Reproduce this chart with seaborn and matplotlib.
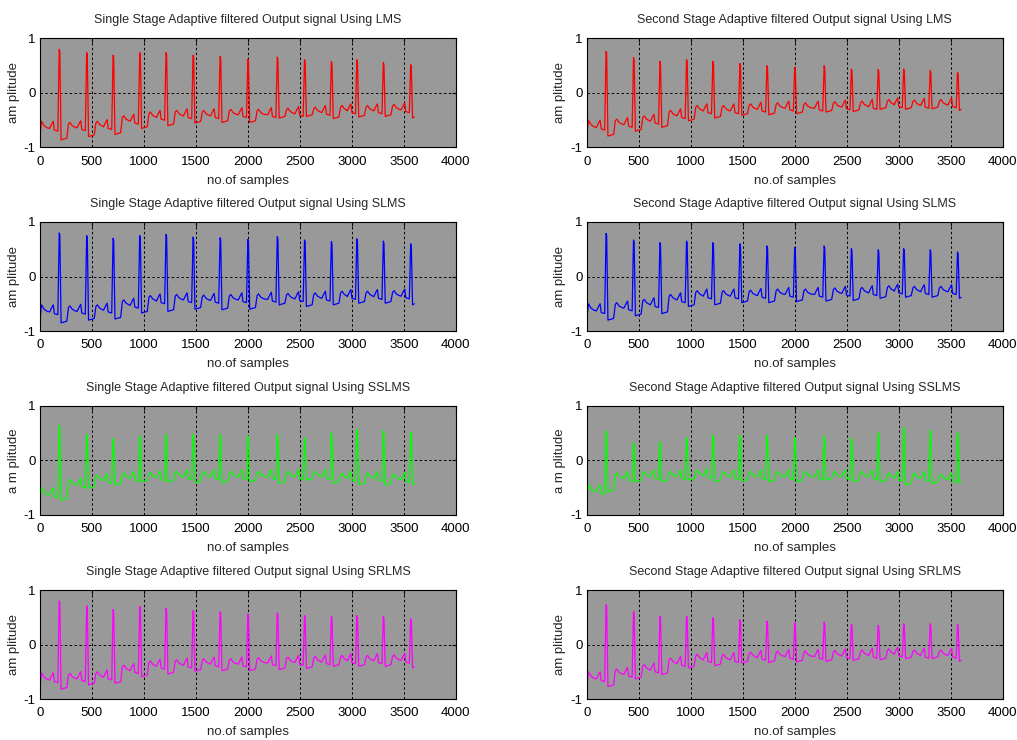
import numpy as np
import pandas as pd
import matplotlib
matplotlib.use("Agg")
import matplotlib.pyplot as plt
import seaborn as sns

# R-peak sample positions (same ECG record in every panel)
r_pos = [188, 452, 706, 962, 1215, 1475, 1735, 2002, 2285, 2547, 2805, 3050, 3305, 3568]
n_end = 3600
x_ticks = [0, 500, 1000, 1500, 2000, 2500, 3000, 3500, 4000]
y_ticks = [-1, 0, 1]

# height of P and T bumps above the local baseline
P_RISE = 0.13
T_RISE = 0.10

# ---- single stage LMS (red)
lms1_start = -0.78
lms1_peak = [0.80, 0.74, 0.69, 0.74, 0.74, 0.69, 0.67, 0.62, 0.66, 0.61, 0.58, 0.61, 0.56, 0.52]
lms1_trough = [-0.86, -0.80, -0.76, -0.65, -0.60, -0.55, -0.54, -0.54, -0.46, -0.43, -0.47, -0.44, -0.43, -0.46]
lms1_base = [-0.65, -0.64, -0.62, -0.52, -0.45, -0.42, -0.42, -0.40, -0.40, -0.38, -0.36, -0.33, -0.33, -0.31]

# ---- second stage LMS (red)
lms2_start = -0.77
lms2_peak = [0.76, 0.65, 0.58, 0.61, 0.58, 0.54, 0.50, 0.47, 0.50, 0.44, 0.43, 0.44, 0.41, 0.38]
lms2_trough = [-0.79, -0.70, -0.63, -0.51, -0.46, -0.41, -0.40, -0.38, -0.35, -0.34, -0.30, -0.30, -0.29, -0.32]
lms2_base = [-0.63, -0.58, -0.52, -0.42, -0.33, -0.33, -0.30, -0.28, -0.28, -0.26, -0.25, -0.22, -0.23, -0.22]

# ---- single stage SLMS (blue)
slms1_start = -0.80
slms1_peak = [0.80, 0.75, 0.70, 0.75, 0.77, 0.72, 0.71, 0.68, 0.73, 0.67, 0.64, 0.69, 0.65, 0.60]
slms1_trough = [-0.85, -0.80, -0.78, -0.67, -0.64, -0.60, -0.61, -0.60, -0.52, -0.55, -0.52, -0.49, -0.49, -0.52]
slms1_base = [-0.65, -0.64, -0.62, -0.53, -0.45, -0.43, -0.44, -0.43, -0.42, -0.41, -0.40, -0.37, -0.37, -0.36]

# ---- second stage SLMS (blue)
slms2_start = -0.78
slms2_peak = [0.79, 0.67, 0.62, 0.65, 0.62, 0.60, 0.56, 0.53, 0.56, 0.51, 0.49, 0.51, 0.49, 0.45]
slms2_trough = [-0.80, -0.72, -0.68, -0.55, -0.52, -0.48, -0.48, -0.46, -0.45, -0.44, -0.40, -0.38, -0.38, -0.40]
slms2_base = [-0.63, -0.58, -0.52, -0.43, -0.36, -0.36, -0.35, -0.33, -0.33, -0.31, -0.30, -0.27, -0.28, -0.28]

# ---- single stage SSLMS (green)
sslms1_start = -0.78
sslms1_peak = [0.65, 0.48, 0.40, 0.45, 0.48, 0.48, 0.47, 0.45, 0.48, 0.42, 0.51, 0.57, 0.55, 0.52]
sslms1_trough = [-0.73, -0.51, -0.45, -0.39, -0.39, -0.41, -0.41, -0.39, -0.42, -0.36, -0.42, -0.44, -0.45, -0.44]
sslms1_base = [-0.63, -0.45, -0.37, -0.33, -0.32, -0.30, -0.30, -0.30, -0.30, -0.30, -0.30, -0.33, -0.33, -0.35]

# ---- second stage SSLMS (green)
sslms2_start = -0.78
sslms2_peak = [0.54, 0.33, 0.34, 0.42, 0.46, 0.46, 0.46, 0.43, 0.45, 0.42, 0.52, 0.61, 0.55, 0.52]
sslms2_trough = [-0.57, -0.39, -0.39, -0.36, -0.39, -0.38, -0.39, -0.39, -0.36, -0.39, -0.39, -0.45, -0.42, -0.42]
sslms2_base = [-0.57, -0.33, -0.30, -0.30, -0.28, -0.30, -0.30, -0.30, -0.30, -0.30, -0.30, -0.33, -0.33, -0.35]

# ---- single stage SRLMS (magenta)
srlms1_start = -0.80
srlms1_peak = [0.80, 0.71, 0.64, 0.70, 0.67, 0.62, 0.60, 0.56, 0.58, 0.53, 0.52, 0.53, 0.51, 0.47]
srlms1_trough = [-0.82, -0.74, -0.71, -0.59, -0.54, -0.49, -0.48, -0.48, -0.46, -0.44, -0.40, -0.40, -0.40, -0.43]
srlms1_base = [-0.65, -0.63, -0.60, -0.48, -0.40, -0.38, -0.36, -0.36, -0.34, -0.33, -0.32, -0.30, -0.30, -0.29]

# ---- second stage SRLMS (magenta)
srlms2_start = -0.77
srlms2_peak = [0.73, 0.61, 0.52, 0.52, 0.49, 0.45, 0.43, 0.40, 0.41, 0.37, 0.35, 0.38, 0.38, 0.37]
srlms2_trough = [-0.77, -0.63, -0.55, -0.43, -0.39, -0.34, -0.33, -0.32, -0.31, -0.29, -0.28, -0.26, -0.26, -0.31]
srlms2_base = [-0.63, -0.55, -0.47, -0.35, -0.28, -0.28, -0.24, -0.22, -0.22, -0.21, -0.20, -0.18, -0.20, -0.20]


def build_trace(start, peaks, troughs, base):
    """Polyline vertices of one ECG output, read beat by beat from the figure."""
    xs = [0, 15, 40, 70]
    ys = [start, base[0] + 0.13, base[0] + 0.05, base[0] + 0.01]
    last = len(r_pos) - 1
    for i, r in enumerate(r_pos):
        b = base[i]
        xs += [r - 95, r - 72, r - 60, r - 50, r - 16, r - 3, r + 3, r + 15]
        ys += [b, b + 0.7 * P_RISE, b + P_RISE, b - 0.03, b - 0.05,
               peaks[i], peaks[i] - 0.04, troughs[i]]
        if i < last:
            nb = base[i + 1]
            xs += [r + 70, r + 86, r + 100, r + 122, r + 150]
            ys += [troughs[i] + 0.03, nb + 0.7 * T_RISE, nb + T_RISE, nb + 0.04, nb + 0.01]
        else:
            xs += [n_end]
            ys += [troughs[i] + 0.02]
    return pd.DataFrame({"sample": xs, "amplitude": ys})


panels = [
    ("Single Stage Adaptive filtered Output signal Using LMS", "am plitude", "#ff0000",
     lms1_start, lms1_peak, lms1_trough, lms1_base),
    ("Second Stage Adaptive filtered Output signal Using LMS", "am plitude", "#ff0000",
     lms2_start, lms2_peak, lms2_trough, lms2_base),
    ("Single Stage Adaptive filtered Output signal Using SLMS", "am plitude", "#0000ff",
     slms1_start, slms1_peak, slms1_trough, slms1_base),
    ("Second Stage Adaptive filtered Output signal Using SLMS", "am plitude", "#0000ff",
     slms2_start, slms2_peak, slms2_trough, slms2_base),
    ("Single Stage Adaptive filtered Output signal Using SSLMS", "a m plitude", "#00ff00",
     sslms1_start, sslms1_peak, sslms1_trough, sslms1_base),
    ("Second Stage Adaptive filtered Output signal Using SSLMS", "a m plitude", "#00ff00",
     sslms2_start, sslms2_peak, sslms2_trough, sslms2_base),
    ("Single Stage Adaptive filtered Output signal Using SRLMS", "am plitude", "#ff00ff",
     srlms1_start, srlms1_peak, srlms1_trough, srlms1_base),
    ("Second Stage Adaptive filtered Output signal Using SRLMS", "am plitude", "#ff00ff",
     srlms2_start, srlms2_peak, srlms2_trough, srlms2_base),
]

sns.set_style("white")
plt.rcParams["font.family"] = ["Liberation Sans", "DejaVu Sans"]
plt.rcParams["axes.unicode_minus"] = False

fig = plt.figure(figsize=(10.17, 7.40), dpi=100)
col_left = [0.0393, 0.577]
row_bottom = [0.8007, 0.5527, 0.3041, 0.0554]
w, h = 0.409, 0.1473

for k, (title, ylab, color, st, pk, tr, bs) in enumerate(panels):
    row, col = divmod(k, 2)
    ax = fig.add_axes([col_left[col], row_bottom[row], w, h])
    ax.set_facecolor("#999999")
    df = build_trace(st, pk, tr, bs)
    sns.lineplot(data=df, x="sample", y="amplitude", ax=ax, color=color,
                 linewidth=0.9, estimator=None, sort=False)
    ax.set_xlim(0, 4000)
    ax.set_ylim(-1, 1)
    ax.set_xticks(x_ticks)
    ax.set_yticks(y_ticks)
    ax.grid(True, color="black", linestyle=(0, (2.5, 2.5)), linewidth=0.7)
    ax.tick_params(direction="in", length=3, top=True, right=True,
                   labelsize=9.5, pad=3, colors="black")
    ax.tick_params(axis="x", pad=6)
    for sp in ax.spines.values():
        sp.set_color("black")
        sp.set_linewidth(0.8)
    ax.set_title(title, fontsize=9, pad=11)
    ax.set_xlabel("no.of samples", fontsize=9.5, labelpad=5)
    ax.set_ylabel(ylab, fontsize=9.5, labelpad=3)

fig.savefig("out.png", dpi=100)
